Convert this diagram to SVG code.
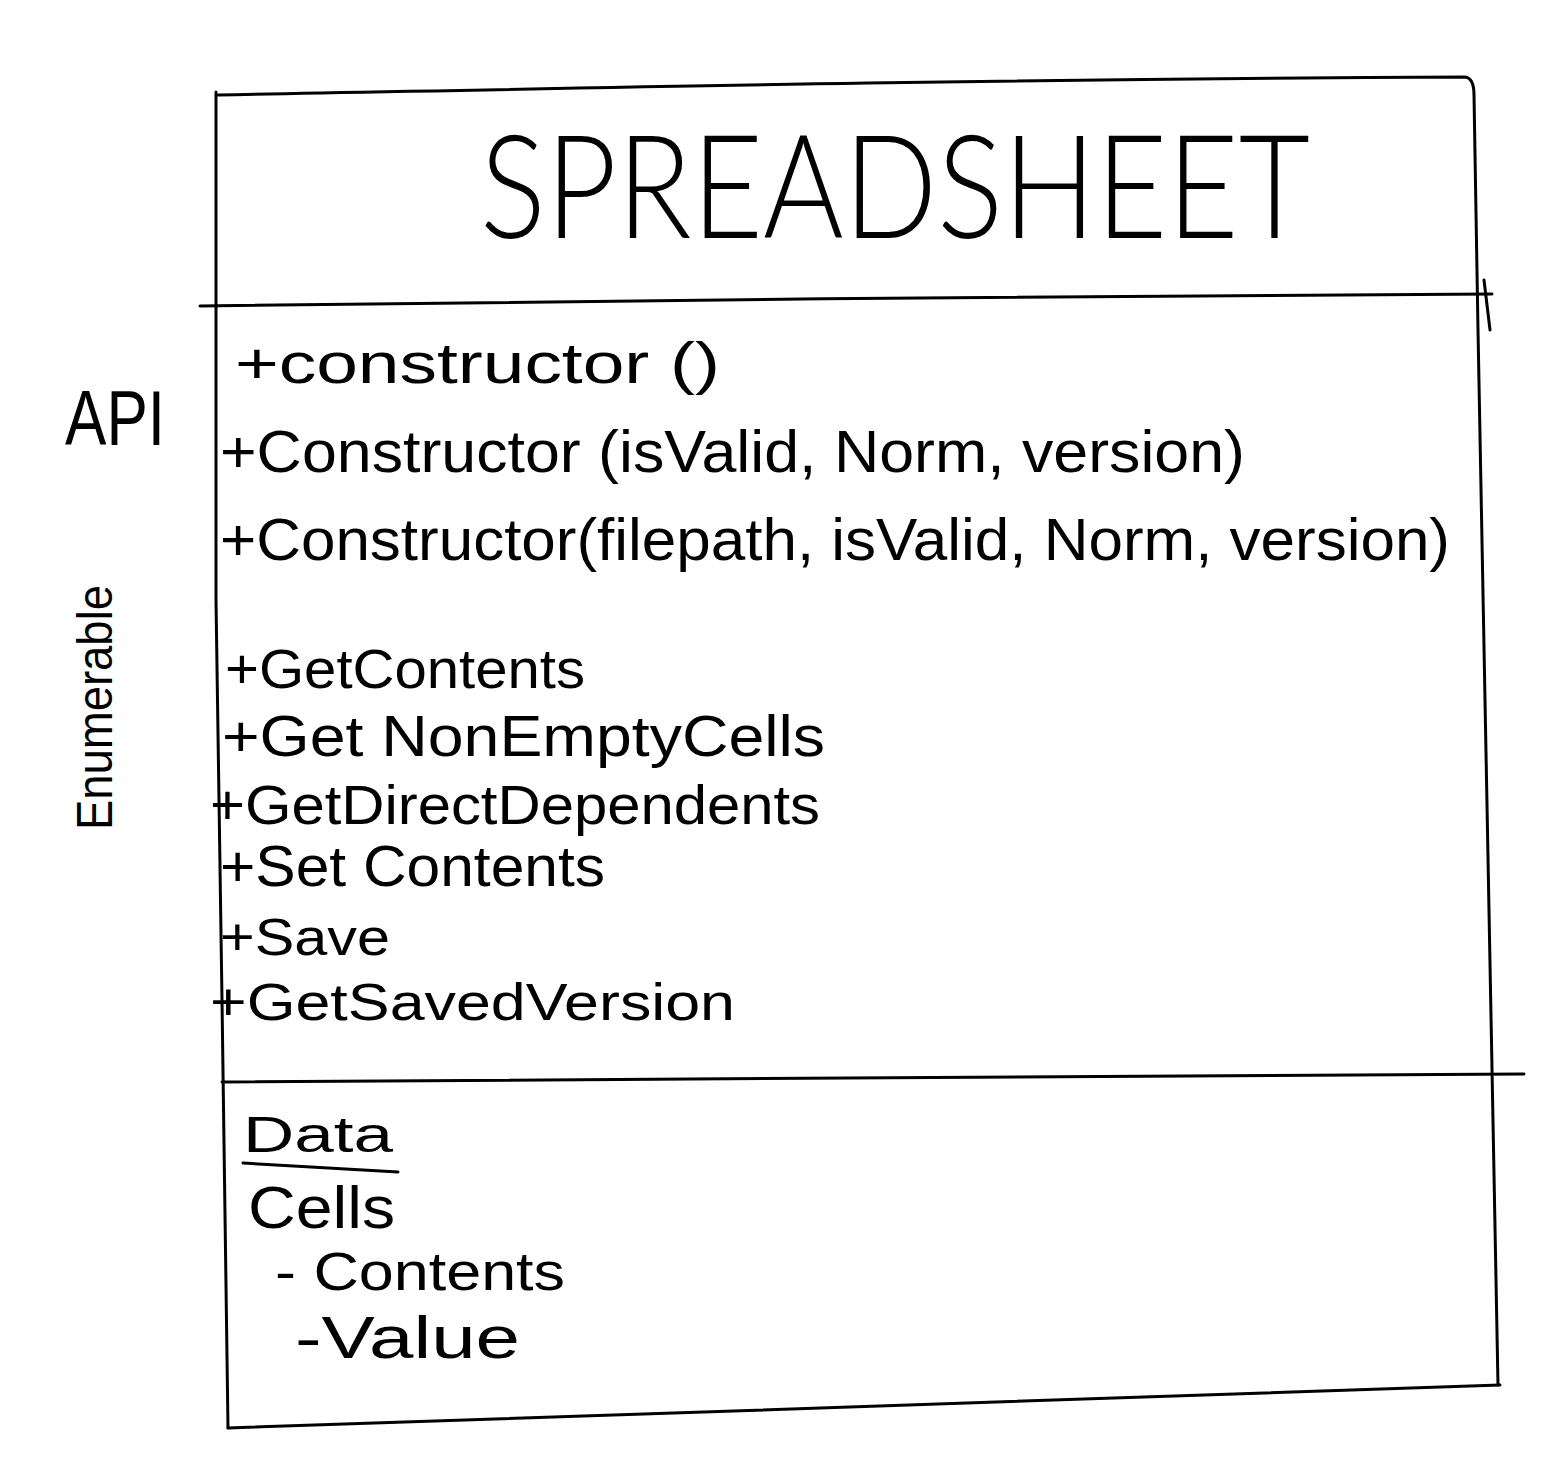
<svg xmlns="http://www.w3.org/2000/svg" width="1542" height="1470" viewBox="0 0 1542 1470">
<style>
.ln{fill:none;stroke:#000;stroke-width:3;stroke-linecap:round;stroke-linejoin:round}
.t{font-family:"Liberation Sans","DejaVu Sans",sans-serif;fill:#000}
.title{font-family:Lato,"Liberation Sans",sans-serif;font-weight:300;fill:#000}
</style>
<rect width="1542" height="1470" fill="#fff"/>
<g id="spreadsheet">
  <g id="spreadsheet-frame">
    <path class="ln" d="M218,95 C500,90 900,80 1465,77 Q1474,78 1474,95 L1478,330 L1498,1385"/>
    <path class="ln" d="M216,92 L216,600 L222,1000 L228,1428"/>
    <path class="ln" d="M228,1428 C700,1415 1100,1395 1500,1385"/>
    <path class="ln" d="M200,306 C600,300 1100,296 1492,294"/>
    <path class="ln" d="M1484,280 L1490,330"/>
    <path class="ln" d="M222,1082 C700,1080 1100,1076 1524,1074"/>
  </g>
  <g id="title">
    <text class="title" x="480" y="238" font-size="145" textLength="830" lengthAdjust="spacingAndGlyphs">SPREADSHEET</text>
  </g>
  <g id="api-label">
    <text class="t" x="65" y="445" font-size="78" textLength="100" lengthAdjust="spacingAndGlyphs">API</text>
  </g>
  <g id="enumerable-label">
    <text class="t" transform="translate(112,830) rotate(-90)" x="0" y="0" font-size="50" textLength="245" lengthAdjust="spacingAndGlyphs">Enumerable</text>
  </g>
  <g id="methods">
    <text class="t" x="235" y="383" font-size="58" textLength="485" lengthAdjust="spacingAndGlyphs">+constructor ()</text>
    <text class="t" x="220" y="472" font-size="60" textLength="1025" lengthAdjust="spacingAndGlyphs">+Constructor (isValid, Norm, version)</text>
    <text class="t" x="220" y="560" font-size="60" textLength="1230" lengthAdjust="spacingAndGlyphs">+Constructor(filepath, isValid, Norm, version)</text>
    <text class="t" x="225" y="688" font-size="56" textLength="360" lengthAdjust="spacingAndGlyphs">+GetContents</text>
    <text class="t" x="222" y="756" font-size="58" textLength="603" lengthAdjust="spacingAndGlyphs">+Get NonEmptyCells</text>
    <text class="t" x="210" y="824" font-size="56" textLength="610" lengthAdjust="spacingAndGlyphs">+GetDirectDependents</text>
    <text class="t" x="220" y="886" font-size="58" textLength="385" lengthAdjust="spacingAndGlyphs">+Set Contents</text>
    <text class="t" x="220" y="955" font-size="52" textLength="170" lengthAdjust="spacingAndGlyphs">+Save</text>
    <text class="t" x="210" y="1020" font-size="52" textLength="525" lengthAdjust="spacingAndGlyphs">+GetSavedVersion</text>
  </g>
  <g id="data">
    <text class="t" x="243" y="1152" font-size="50" textLength="150" lengthAdjust="spacingAndGlyphs">Data</text>
    <path class="ln" d="M243,1163 L398,1172"/>
    <text class="t" x="248" y="1228" font-size="60" textLength="147" lengthAdjust="spacingAndGlyphs">Cells</text>
    <text class="t" x="275" y="1290" font-size="54" textLength="290" lengthAdjust="spacingAndGlyphs">- Contents</text>
    <text class="t" x="295" y="1358" font-size="60" textLength="225" lengthAdjust="spacingAndGlyphs">-Value</text>
  </g>
</g>
<g id="connectors"/>
</svg>
